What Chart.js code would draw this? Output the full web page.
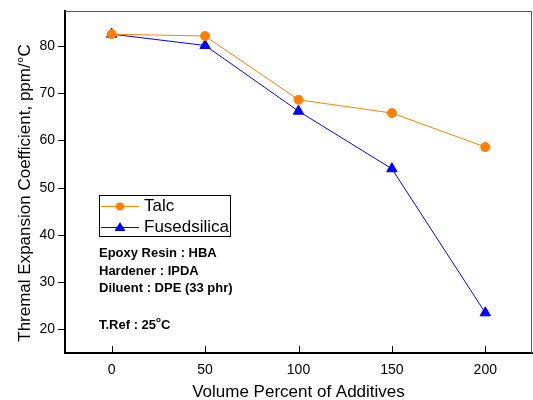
<!DOCTYPE html>
<html><head><meta charset="utf-8">
<script src="https://cdn.jsdelivr.net/npm/chart.js@4"></script>
<style>html,body{margin:0;padding:0;background:#fff}#c{display:block}</style>
</head><body>
<canvas id="c" width="533" height="400"></canvas>
<script>
const additives = [0, 50, 100, 150, 200];
const talc = [82.5, 82.1, 68.6, 65.8, 58.6];
const fusedsilica = [82.5, 80.1, 66.2, 54.0, 23.5];
const xTicks = [0, 50, 100, 150, 200];
const yTicks = [20, 30, 40, 50, 60, 70, 80];
const notes = ["Epoxy Resin : HBA", "Hardener : IPDA", "Diluent : DPE (33 phr)"];
const yTitle = "Thremal Expansion Coefficient, ppm/°C";
const xTitle = "Volume Percent of Additives";

const FONT = "'Liberation Sans', Arial, sans-serif";

const frame = {
  id: 'frame',
  afterDraw(chart) {
    const {ctx, chartArea: a, scales: {x, y}} = chart;
    ctx.save();
    ctx.strokeStyle = '#555';
    ctx.lineWidth = 1;
    ctx.beginPath();
    ctx.moveTo(a.left, a.top + 0.5); ctx.lineTo(a.right - 0.5, a.top + 0.5);
    ctx.lineTo(a.right - 0.5, a.bottom);
    ctx.stroke();
    ctx.strokeStyle = '#000';
    ctx.beginPath();
    xTicks.forEach(v => { const px = Math.round(x.getPixelForValue(v)) + 0.5; ctx.moveTo(px, a.bottom); ctx.lineTo(px, a.bottom - 7); });
    yTicks.forEach(v => { const py = Math.round(y.getPixelForValue(v)) + 0.5; ctx.moveTo(a.left, py); ctx.lineTo(a.left - 7, py); });
    ctx.stroke();
    // y title
    ctx.save();
    ctx.translate(25, 193);
    ctx.rotate(-Math.PI / 2);
    ctx.fillStyle = '#000';
    ctx.font = '17px ' + FONT;
    ctx.textAlign = 'center';
    ctx.textBaseline = 'middle';
    ctx.fillText(yTitle, 0, 0);
    ctx.restore();
    // legend
    ctx.strokeStyle = '#000';
    ctx.strokeRect(99.5, 195.5, 131, 41);
    ctx.strokeStyle = '#FF8000';
    ctx.beginPath(); ctx.moveTo(101, 206.5); ctx.lineTo(139, 206.5); ctx.stroke();
    ctx.fillStyle = '#FF8000';
    ctx.beginPath(); ctx.arc(120, 206.5, 4, 0, Math.PI * 2); ctx.fill();
    ctx.strokeStyle = '#0000FF';
    ctx.beginPath(); ctx.moveTo(101, 227.5); ctx.lineTo(139, 227.5); ctx.stroke();
    ctx.fillStyle = '#0000FF';
    ctx.beginPath(); ctx.moveTo(120, 222); ctx.lineTo(125.5, 231); ctx.lineTo(114.5, 231); ctx.closePath(); ctx.fill();
    ctx.fillStyle = '#000';
    ctx.font = '17px ' + FONT;
    ctx.textBaseline = 'middle';
    ctx.textAlign = 'left';
    ctx.fillText('Talc', 144, 206);
    ctx.fillText('Fusedsilica', 144, 227);
    // notes
    ctx.font = 'bold 13px ' + FONT;
    const ny = [253, 271, 288];
    notes.forEach((t, i) => ctx.fillText(t, 99, ny[i]));
    const base = 'T.Ref : 25';
    ctx.fillText(base, 99, 325);
    const w = ctx.measureText(base).width;
    ctx.font = 'bold 8px ' + FONT;
    ctx.fillText('o', 99 + w, 320);
    const w2 = ctx.measureText('o').width;
    ctx.font = 'bold 13px ' + FONT;
    ctx.fillText('C', 99 + w + w2, 325);
    ctx.restore();
  }
};

new Chart(document.getElementById('c'), {
  type: 'line',
  data: {
    datasets: [
      {
        label: 'Talc',
        data: additives.map((v, i) => ({x: v, y: talc[i]})),
        borderColor: '#FF8000', backgroundColor: '#FF8000',
        borderWidth: 1, pointStyle: 'circle', pointRadius: 4.5, pointHoverRadius: 4.5,
        tension: 0
      },
      {
        label: 'Fusedsilica',
        data: additives.map((v, i) => ({x: v, y: fusedsilica[i]})),
        borderColor: '#0000FF', backgroundColor: '#0000FF',
        borderWidth: 1, pointStyle: 'triangle', pointRadius: 6, pointHoverRadius: 6,
        tension: 0
      }
    ]
  },
  options: {
    responsive: false, animation: false,
    layout: {autoPadding: false, padding: {top: 11, right: 1, left: 0, bottom: 0}},
    plugins: {legend: {display: false}, tooltip: {enabled: false}},
    scales: {
      x: {
        type: 'linear', min: -25, max: 225,
        afterBuildTicks: s => { s.ticks = xTicks.map(v => ({value: v})); },
        afterFit: s => { s.height = 47; s.paddingLeft = 0; s.paddingRight = 0; },
        grid: {display: false},
        border: {display: true, color: '#000', width: 2},
        ticks: {color: '#000', font: {family: FONT, size: 14}, padding: 1, maxRotation: 0},
        title: {display: true, text: xTitle, color: '#000', font: {family: FONT, size: 17}, padding: {top: 2, bottom: -3}}
      },
      y: {
        min: 15, max: 87.4,
        afterBuildTicks: s => { s.ticks = yTicks.map(v => ({value: v})); },
        afterFit: s => { s.width = 65; s.paddingTop = 0; s.paddingBottom = 0; },
        grid: {display: false},
        border: {display: true, color: '#000', width: 2},
        ticks: {color: '#000', font: {family: FONT, size: 14}, padding: 2},
        title: {display: false}
      }
    }
  },
  plugins: [frame]
});
</script>
</body></html>
